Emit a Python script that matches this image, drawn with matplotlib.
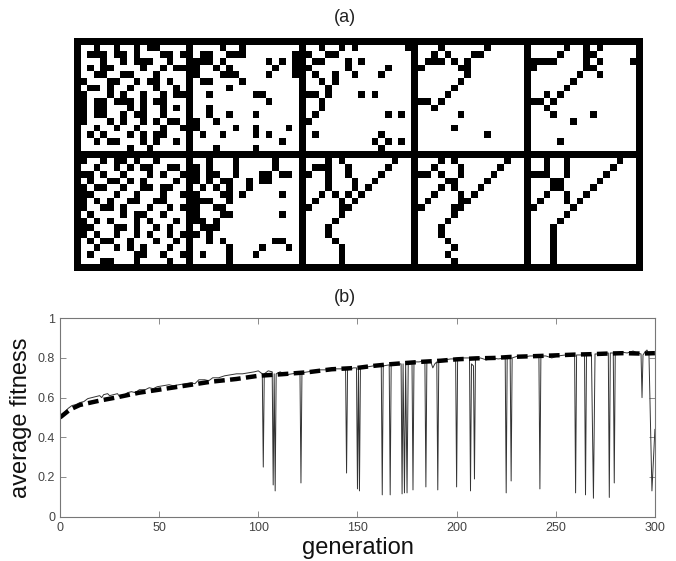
import matplotlib
matplotlib.use("Agg")
import matplotlib.pyplot as plt
import numpy as np

plt.rcParams['font.family'] = ['Liberation Sans', 'DejaVu Sans']

# ---- panel (a): 2 rows x 5 snapshots, 16x16 binary matrices ('#' = black)
top_row = [
    # snapshot 1
    ["..#..#..#.##....", ".###.##.#...##.#", "...#..#.###..#..", ".#.##....#..#.##",
     "..##..##...#....", "#...##..#.##.#..", ".##.#..#...#..#.", "#...#.#..#..#.##",
     "#.##.###.#.##...", "#.##...#.#..#.#.", "#.##..#.##..#...", "#...#.#..#.#.##.",
     "..#..#..#...#..#", ".#.#...#.#.##...", "..#.##...#.#..#.", ".......#..#....."],
    # snapshot 2
    ["....#..#........", ".##..###.......#", "###.#......#.#.#", "#..#.#......#..#",
     "#...###....#...#", ".##....#........", ".....#..........", "..#......##.....",
     "...........#....", "..#.............", "..#..#...#......", "#..#............",
     "#.....#..#....#.", ".#..#....#.#....", ".............#..", "...#.....#......"],
    # snapshot 3
    ["..#..#.#.......#", "#..##...........", ".##...#.#.......", "#.....#.....#...",
     ".#..#..#...#....", "..#.#...........", "...#............", "##.#....#.#.....",
     "..#.............", "..#.............", ".#..........#.#.", "#...............",
     "................", ".#.........#....", "..........#.#.#.", "...........#...."],
    # snapshot 4
    ["...#......#.....", "..#.#...##......", ".###.#.#........", "#.....##........",
     ".......#........", "......#.........", ".....#..........", "....#...........",
     "##.#............", "..#.............", "......#.........", "................",
     ".....#..........", "..........#.....", "................", "................"],
    # snapshot 5
    [".....#..#.#.....", "....#...##......", "####....#.#....#", "#.......##......",
     ".......#..#.....", "......#.........", ".....#..........", "..#.#...........",
     "##.#............", "..#.............", "...#.....#......", "......#.........",
     "................", "................", "....#...........", "................"],
]
bottom_row = [
    ["#..#.##.#..#....", "..#..#.#.##..##.", "##.#..#...#.#..#", ".#..##.#.#....#.",
     "#.##..#..##.##..", "##...#..#...#..#", "#.#.#..##..##...", "#..##.#...#..#.#",
     ".#....#.##..#...", "#.#.#...#.#...#.", "##...##.#..#.#..", "#.#..#..#.#..#.#",
     ".#.##..#...#..#.", "..#..#.#.#...#..", ".#......##..#..#", "...##...#....#.."],
    ["..#...#.....#...", "#.#...#.....#...", "#.##..#...##.##.", "#.#.##..#.##....",
     ".#.#.#..#.......", "#...##.#.....#..", "###..#..........", "#..##...........",
     "#...##.......#..", "##.#............", ".###............", "#.#.............",
     "..#.#.......##..", ".....#....#...#.", ".#...#...#......", ".....#.........."],
    ["...#.#.......#..", ".###..#.....#...", "#..#..#....#....", "...#...#..#.....",
     "...#...#.#......", "..#.#.#.#.......", ".#...#.#........", "#....##.........",
     ".....#..........", "....#...........", "...#............", "...#............",
     "....#...........", ".....#..........", ".....#..........", ".....#.........."],
    ["...#.#.......#..", "..#...#.....#...", "##.#..#....#....", "....##....#.....",
     "...#.#...#......", "..#...#.#.......", ".#....##........", "#....##.........",
     ".....#..........", "....#...........", "...#............", "...#............",
     "....#...........", ".....#..........", "....#...........", ".....#.........."],
    ["..#..#.......#..", "..#..#......#...", "###..#.....#....", "...##.....#.....",
     "...##....#......", "..#..#..#.......", ".#...#.#........", "#.....#.........",
     ".....#..........", "....#...........", "...#............", "...#............",
     "...#............", "...#............", "...#............", "...#............"],
]

# ---- panel (b): average fitness over generations
gen_mean = [0, 5, 10, 20, 28, 40, 50, 63, 76, 89, 100, 112, 125, 137, 150, 158, 166,
            175, 183, 192, 200, 210, 219, 227, 236, 242, 250, 260, 268, 276, 284, 293, 300]
fit_mean = [0.50, 0.54, 0.563, 0.585, 0.60, 0.625, 0.64, 0.66, 0.68, 0.694, 0.71, 0.718,
            0.728, 0.743, 0.75, 0.76, 0.768, 0.775, 0.781, 0.786, 0.793, 0.798, 0.80,
            0.805, 0.808, 0.81, 0.813, 0.817, 0.819, 0.822, 0.824, 0.822, 0.824]

gen_best = [0, 2, 4, 6, 8, 10, 12, 14, 16, 18, 20, 21, 22, 24, 25, 27, 29, 30, 32, 34,
            36, 38, 40, 43, 45, 47, 49, 52, 55, 57, 60, 63, 66, 68, 70, 73, 75, 77, 80,
            83, 86, 89, 92, 95, 98, 100, 102, 102.5, 103, 105, 107, 107.5, 108, 108.5,
            109, 111, 114, 117, 120, 121, 121.5, 122, 125, 128, 131, 134, 137, 140, 144,
            144.5, 145, 148, 149.5, 150, 150.5, 151, 151.5, 155, 158, 162, 162.5, 163,
            166, 166.5, 167, 170, 172, 172.5, 173, 173.7, 174.3, 175, 175.6, 177.5, 178,
            178.5, 181, 184, 184.5, 185, 187, 188, 189, 190, 190.5, 191, 194, 197, 199.5,
            200, 200.5, 203, 206.5, 207, 207.5, 208.5, 209, 209.5, 212, 215, 218, 221,
            224.5, 225, 225.5, 227, 227.5, 228, 231, 234, 237, 241.5, 242, 242.5, 245,
            248, 251, 255, 259.5, 260, 260.5, 264.5, 265, 265.5, 268, 269, 269.8, 273,
            276.5, 277, 277.5, 279, 279.5, 280, 283, 286, 289, 291, 293, 293.5, 294, 295,
            296, 297, 298.5, 300]
fit_best = [0.50, 0.52, 0.545, 0.56, 0.565, 0.575, 0.58, 0.595, 0.60, 0.605, 0.61, 0.60,
            0.615, 0.62, 0.61, 0.615, 0.62, 0.605, 0.61, 0.625, 0.63, 0.625, 0.64, 0.64,
            0.65, 0.645, 0.655, 0.66, 0.665, 0.66, 0.665, 0.67, 0.675, 0.67, 0.69, 0.69,
            0.685, 0.70, 0.70, 0.71, 0.715, 0.72, 0.72, 0.725, 0.73, 0.735, 0.72, 0.25,
            0.72, 0.735, 0.73, 0.16, 0.72, 0.13, 0.72, 0.73, 0.715, 0.72, 0.725, 0.73,
            0.17, 0.725, 0.73, 0.735, 0.74, 0.74, 0.745, 0.745, 0.745, 0.22, 0.74, 0.75,
            0.75, 0.14, 0.75, 0.13, 0.75, 0.755, 0.76, 0.76, 0.11, 0.76, 0.765, 0.11,
            0.765, 0.77, 0.77, 0.115, 0.77, 0.12, 0.775, 0.12, 0.775, 0.78, 0.135, 0.78,
            0.78, 0.785, 0.15, 0.785, 0.78, 0.75, 0.77, 0.78, 0.135, 0.785, 0.79, 0.795,
            0.795, 0.15, 0.795, 0.80, 0.80, 0.13, 0.77, 0.76, 0.19, 0.79, 0.80, 0.79,
            0.80, 0.795, 0.80, 0.12, 0.80, 0.80, 0.18, 0.80, 0.81, 0.805, 0.81, 0.81,
            0.14, 0.81, 0.81, 0.80, 0.81, 0.815, 0.815, 0.12, 0.815, 0.815, 0.11, 0.815,
            0.815, 0.093, 0.82, 0.82, 0.825, 0.097, 0.825, 0.825, 0.17, 0.825, 0.83,
            0.825, 0.835, 0.825, 0.82, 0.60, 0.815, 0.83, 0.84, 0.82, 0.13, 0.44]

x_ticks = [0, 50, 100, 150, 200, 250, 300]
y_ticks = [0, 0.2, 0.4, 0.6, 0.8, 1]


def to_array(rows):
    return np.array([[1.0 if ch == '#' else 0.0 for ch in r] for r in rows])


# stitch the 10 snapshots into one picture with 1-cell black separators
n = 16
mosaic = np.ones((2 * (n + 1) + 1, 5 * (n + 1) + 1))
for i, row in enumerate([top_row, bottom_row]):
    for j, panel in enumerate(row):
        r0 = 1 + i * (n + 1)
        c0 = 1 + j * (n + 1)
        mosaic[r0:r0 + n, c0:c0 + n] = to_array(panel)

fig = plt.figure(figsize=(6.76, 5.61), dpi=100)

ax_img = fig.add_axes([0.1095, 0.5169, 0.8417, 0.4153])
ax_img.imshow(mosaic, cmap='gray_r', vmin=0, vmax=1, aspect='auto', interpolation='nearest')
ax_img.axis('off')
fig.text(0.51, 0.968, '(a)', ha='center', va='center', fontsize=13, color='#222222')

ax = fig.add_axes([0.0888, 0.079, 0.880, 0.3537])
ax.plot(gen_best, fit_best, color='#333333', linewidth=0.7)
ax.plot(gen_mean, fit_mean, color='black', linewidth=3.2, linestyle='--', dashes=(2.4, 1.2))
ax.set_xlim(0, 300)
ax.set_ylim(0, 1)
ax.set_xticks(x_ticks)
ax.set_yticks(y_ticks)
ax.set_yticklabels(['0', '0.2', '0.4', '0.6', '0.8', '1'])
ax.tick_params(direction='in', top=True, right=True, length=4, width=0.6,
               labelsize=9, colors='#777777', labelcolor='#444444')
for s in ax.spines.values():
    s.set_color('#777777')
    s.set_linewidth(0.8)
ax.set_xlabel('generation', fontsize=17, color='#111111')
ax.set_ylabel('average fitness', fontsize=17, color='#111111')
ax.xaxis.set_label_coords(0.5, -0.1)
ax.yaxis.set_label_coords(-0.047, 0.5)
fig.text(0.51, 0.47, '(b)', ha='center', va='center', fontsize=13, color='#222222')

fig.savefig('out.png', dpi=100)
